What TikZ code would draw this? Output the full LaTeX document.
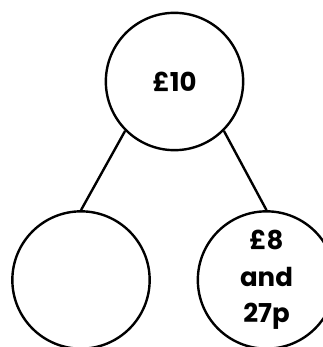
\documentclass[tikz,border=0pt]{standalone}
\usepackage{fontspec}
\setmainfont{Poppins}

\begin{document}
\begin{tikzpicture}[x=0.75pt,y=-0.75pt,line width=1.8pt]
 % part-whole model, one whole and two parts
\tikzset{every node/.style={draw, circle, minimum size=103pt, inner sep=0pt, align=center, font=\fontsize{19.5}{27.5}\selectfont\bfseries}} % all circles the same size
\useasboundingbox (0,0) rectangle (323,347);
\node (whole) at (174.5,81.5) {£10};
\node (partA) at (81,280) {};
\node (partB) at (266.5,280) {£8\\and\\27p};

\draw (whole.south west) -- (partA.north);
\draw (whole.south east) -- (partB.north);
%\draw (whole) -- (partB);
\end{tikzpicture}
\end{document}
